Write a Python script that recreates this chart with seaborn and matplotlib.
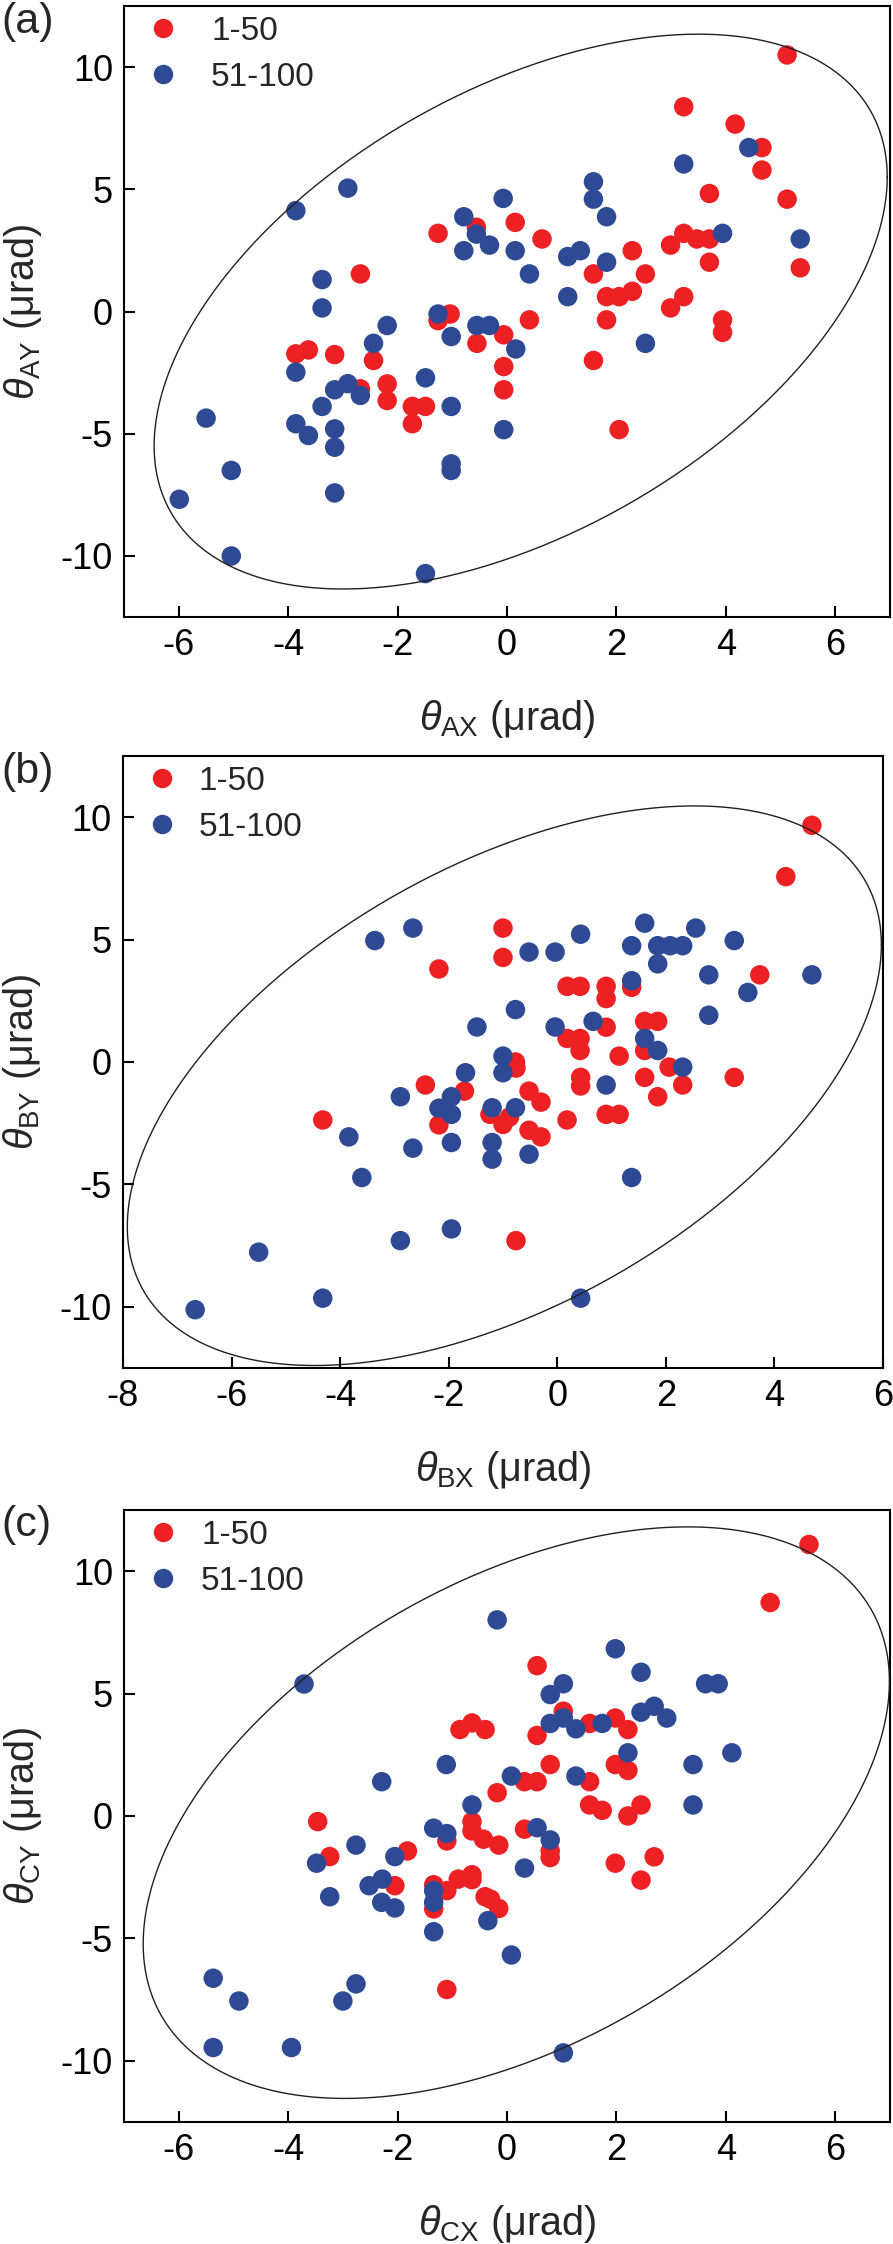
import numpy as np
import pandas as pd
import matplotlib
matplotlib.use('Agg')
import matplotlib.pyplot as plt
from matplotlib.lines import Line2D
import seaborn as sns

# --- 1. DATA (urad) ---
groups = ['1-50', '51-100']

# panel (a)
a_red_x = [-1.26, -0.56, 0.15, -2.68, -1.04, -1.26, -0.06, 5.12, 3.23, 4.17, 4.66, 4.66,
           3.70, 5.12, 0.64, 1.58, 2.29, 2.53, 1.82, 2.05, 2.29, 2.99, 3.23, 3.47, 3.70,
           3.70, 5.36, 3.23, 2.99, 0.41, 1.82, 3.94, 3.94, 1.58, -0.06, -0.06, 2.05, -0.55,
           -3.86, -3.63, -3.15, -2.44, -2.19, -2.19, -2.68, -1.73, -1.49, -1.73]
a_red_y = [3.20, 3.45, 3.65, 1.54, -0.10, -0.37, -0.95, 10.50, 8.38, 7.67, 6.71, 5.79,
           4.83, 4.60, 2.97, 1.54, 2.49, 1.54, 0.61, 0.61, 0.83, 2.72, 3.20, 2.97, 2.97,
           2.02, 1.79, 0.61, 0.15, -0.34, -0.34, -0.34, -0.85, -2.00, -2.25, -3.20, -4.83, -1.30,
           -1.73, -1.57, -1.76, -2.00, -2.96, -3.64, -3.16, -3.88, -3.88, -4.59]
a_blue_x = [-3.86, -2.91, -0.07, -0.79, -0.56, -0.32, -0.79, 0.15, -3.38, -3.38, -1.26, -2.19,
            -0.55, -0.32, 0.41, 4.42, 3.23, 1.58, 1.58, 1.82, 1.11, 1.34, 1.82, 1.11, 3.94,
            5.36, 0.16, 2.53, -0.06, -1.02, -3.86, -2.44, -1.49, -3.15, -2.91, -2.68, -3.38,
            -1.02, -3.86, -3.63, -3.15, -3.15, -5.50, -5.04, -1.02, -1.02, -3.15, -5.99, -5.04, -1.49]
a_blue_y = [4.13, 5.05, 4.63, 3.88, 3.17, 2.72, 2.49, 2.49, 1.31, 0.15, -0.10, -0.57,
            -0.57, -0.57, 1.54, 6.71, 6.04, 5.31, 4.60, 3.88, 2.25, 2.49, 2.02, 0.61, 3.20,
            2.97, -1.53, -1.30, -4.83, -1.02, -2.48, -1.30, -2.71, -3.20, -2.95, -3.43, -3.88,
            -3.88, -4.59, -5.07, -4.80, -5.55, -4.36, -6.50, -6.23, -6.50, -7.42, -7.68, -10.00, -10.72]

# panel (b)
b_red_x = [-1.00, -1.00, -2.18, -0.77, 4.69, 4.21, 3.73, 0.18, 0.42, 0.90, 0.90, 1.37, 0.90,
           0.18, 0.42, 0.42, 1.61, 1.85, 1.61, 1.14, 2.06, 0.43, 1.61, 3.26, -0.76, 2.31, 0.43,
           1.85, -0.52, -0.30, 0.18, 0.90, 1.14, -1.00, -0.52, -0.30, -0.76, -2.43, -1.71,
           -2.18, -1.24, -4.32, -0.88]
b_red_y = [5.47, 4.27, 3.80, 0.00, 9.67, 7.57, 3.56, 3.09, 3.09, 3.09, 2.59, 3.05, 1.42,
           0.96, 0.96, 0.47, 1.66, 1.66, 0.47, 0.24, -0.21, -0.63, -0.63, -0.63, -0.25, -0.94, -0.98,
           -1.42, -1.19, -1.64, -2.37, -2.14, -2.14, -2.55, -2.79, -3.06, -7.30, -0.94, -1.19,
           -2.57, -2.14, -2.37, -2.25]
b_blue_x = [-3.36, -2.66, -0.77, -1.48, -1.00, -1.69, -1.00, -0.52, -0.04, 0.43, 1.61, 1.37,
            1.85, 2.08, 2.31, 2.55, 1.85, 3.26, 2.79, 4.69, 3.51, 2.79, 1.37, -0.04, 0.66,
            1.61, 1.85, 2.31, 0.90, -0.77, -1.20, -1.20, -1.20, -0.52, 1.37, 0.43, -2.89,
            -1.95, -2.18, -1.95, -3.84, -2.66, -1.95, -3.60, -1.95, -2.89, -5.50, -4.32, -6.67]
b_blue_y = [4.96, 5.47, 2.14, 1.43, 0.24, -0.44, -0.44, 4.49, 4.49, 5.22, 5.67, 4.75,
            4.75, 4.75, 4.75, 5.47, 4.01, 4.96, 3.56, 3.56, 2.84, 1.91, 3.32, 1.43, 1.66,
            0.96, 0.47, -0.21, -0.94, -1.87, -1.87, -3.29, -3.97, -3.77, -4.72, -9.65, -1.42,
            -1.42, -1.89, -2.14, -3.06, -3.52, -3.29, -4.72, -6.82, -7.30, -7.77, -9.65, -10.12]

# panel (c)
c_red_x = [-0.86, -0.64, -0.40, -0.18, -3.46, -0.64, 5.52, 4.81, 0.55, 1.03, 1.51, 1.98,
           2.21, 0.55, 1.98, 2.21, 0.79, 0.32, 0.55, 1.51, 1.51, 1.74, 2.21, 2.45, 0.32,
           0.79, 0.79, -0.15, 1.98, 2.69, 2.45, -0.15, -0.30, -1.10, -0.64, -0.43, -3.24,
           -1.82, -2.05, -1.34, -1.34, -1.10, -0.89, -0.64, -0.64, -0.40, -1.10]
c_red_y = [3.53, 3.80, 3.53, 0.95, -0.23, -0.23, 11.09, 8.72, 6.14, 4.28, 3.78, 4.00,
           3.53, 3.29, 2.10, 1.86, 2.10, 1.40, 1.40, 1.40, 0.45, 0.23, 0.00, 0.45, -0.54,
           -1.43, -1.70, -1.19, -1.93, -1.67, -2.62, -3.78, -3.40, -1.02, -0.61, -0.95, -1.66,
           -1.43, -2.85, -2.81, -3.80, -3.05, -2.58, -2.40, -2.60, -3.30, -7.09]
c_blue_x = [-3.71, -0.18, -1.11, -2.29, -0.64, 1.98, 2.45, 1.03, 0.79, 3.63, 3.86, 1.03,
            0.79, 1.26, 1.74, 2.45, 2.69, 2.92, 2.21, 3.40, 4.11, 0.08, 1.26, 3.40, 0.55,
            0.79, 0.32, -0.35, 0.08, 1.03, -1.34, -1.10, -2.76, -3.48, -2.05, -2.52, -2.28,
            -3.24, -2.29, -2.05, -1.34, -1.34, -1.34, -5.37, -4.90, -2.76, -3.00, -5.37, -3.94]
c_blue_y = [5.39, 8.01, 2.10, 1.40, 0.45, 6.83, 5.87, 5.40, 4.96, 5.40, 5.40, 4.00,
            3.78, 3.56, 3.78, 4.24, 4.48, 4.00, 2.58, 2.10, 2.58, 1.63, 1.63, 0.45, -0.48,
            -0.98, -2.13, -4.28, -5.68, -9.68, -0.50, -0.72, -1.19, -1.93, -1.66, -2.85, -2.58,
            -3.30, -3.53, -3.76, -3.05, -3.53, -4.73, -6.63, -7.56, -6.86, -7.56, -9.46, -9.46]

# boundary ellipses: centre x, centre y, half width, half height, y offset at x extreme
ellipse_a = [0.25, 0.00, 6.70, 11.35, 5.50]
ellipse_b = [-0.975, -0.97, 6.945, 11.43, 5.76]
ellipse_c = [0.17, 0.135, 6.82, 11.675, 5.36]

# --- 2. STYLE ---
sns.set_style('white')
plt.rcParams['font.family'] = ['Liberation Sans', 'DejaVu Sans']
plt.rcParams['mathtext.fontset'] = 'custom'
plt.rcParams['mathtext.rm'] = 'Liberation Sans'
plt.rcParams['mathtext.it'] = 'Liberation Sans:italic'
plt.rcParams['mathtext.bf'] = 'Liberation Sans:bold'
plt.rcParams['axes.unicode_minus'] = False

RED = '#ED2024'
BLUE = '#2E4A94'

panels = [
    dict(tag='(a)', sub='A', red=(a_red_x, a_red_y), blue=(a_blue_x, a_blue_y), ell=ellipse_a,
         xlim=(-7, 7), xticks=np.arange(-6, 7, 2), rect=[0.1389, 0.7250, 0.8577, 0.2723], tpad=0.57),
    dict(tag='(b)', sub='B', red=(b_red_x, b_red_y), blue=(b_blue_x, b_blue_y), ell=ellipse_b,
         xlim=(-8, 6), xticks=np.arange(-8, 7, 2), rect=[0.1377, 0.3904, 0.8511, 0.2727], tpad=0.24),
    dict(tag='(c)', sub='C', red=(c_red_x, c_red_y), blue=(c_blue_x, c_blue_y), ell=ellipse_c,
         xlim=(-7, 7), xticks=np.arange(-6, 7, 2), rect=[0.1389, 0.0544, 0.8577, 0.2727], tpad=0.27),
]

# --- 3. PLOTTING ---
fig = plt.figure(figsize=(8.93, 22.44), dpi=100)

for p in panels:
    ax = fig.add_axes(p['rect'])
    rx, ry = p['red']
    bx, by = p['blue']
    df = pd.DataFrame({'x': rx + bx, 'y': ry + by,
                       'shot': [groups[0]] * len(rx) + [groups[1]] * len(bx)})
    sns.scatterplot(data=df, x='x', y='y', hue='shot', hue_order=groups, palette=[RED, BLUE],
                    s=197, linewidth=0, alpha=1, legend=False, ax=ax, zorder=2)

    # ellipse from its bounding parameters
    cx, cy, hx, hy, off = p['ell']
    t = np.linspace(0, 2 * np.pi, 500)
    ex = cx + hx * np.cos(t)
    ey = cy + off * np.cos(t) + np.sqrt(hy ** 2 - off ** 2) * np.sin(t)
    ax.plot(ex, ey, color='#231F20', lw=1.0, zorder=3)

    ax.set_xlim(*p['xlim'])
    ax.set_ylim(-12.5, 12.5)
    ax.set_xticks(p['xticks'])
    ax.set_yticks([-10, -5, 0, 5, 10])
    ax.tick_params(direction='in', length=8, width=1.5, labelsize=26, pad=8,
                   bottom=True, left=True, top=False, right=False, colors='black')
    for sp in ax.spines.values():
        sp.set_linewidth(1.5)
        sp.set_color('black')

    ax.set_xlabel(r'$\theta_{\rm %sX}$ (μrad)' % p['sub'], fontsize=28.5)
    ax.set_ylabel(r'$\theta_{\rm %sY}$ (μrad)' % p['sub'], fontsize=28.5)
    ax.xaxis.set_label_coords(0.5, -0.132)
    ax.yaxis.set_label_coords(-0.105, 0.5)

    handles = [Line2D([], [], ls='', marker='o', ms=14, mfc=c, mec='none', label=g)
               for c, g in zip([RED, BLUE], groups)]
    ax.legend(handles=handles, loc='upper left', frameon=False, fontsize=24,
              borderaxespad=0.2, borderpad=0.1, handlelength=1.74,
              handletextpad=p['tpad'], labelspacing=0.45)

    top = p['rect'][1] + p['rect'][3]
    fig.text(0.002, min(top + 0.002, 0.999), p['tag'], fontsize=31, ha='left', va='top')

fig.savefig('out.png', dpi=100)
